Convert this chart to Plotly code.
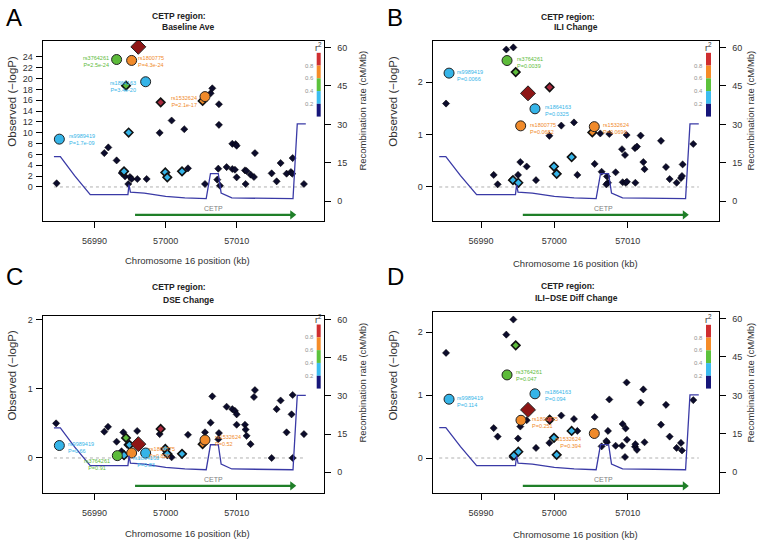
import plotly.graph_objects as go

# ---------------- data ----------------
REC_POS = [56984.3, 56985.2, 56987.2, 56989.4, 56994.7, 56994.85, 56995.05, 56997.0, 57000.0,
           57002.7, 57005.7, 57006.3, 57007.4, 57007.8, 57009.3, 57017.9, 57018.5, 57019.7]
REC_RATE = [17.4, 17.4, 10.0, 2.6, 2.6, 6.5, 3.6, 3.2, 1.9, 1.3, 1.0, 10.8, 10.8, 3.2, 1.3, 1.0, 30.2, 30.2]

GENE_NAME = "CETP"
GENE_START = 56995.7
GENE_END = 57017.8

SNP_NAMES = ["rs9989419", "rs3764261", "rs1800775", "rs1864163", "rs1532624"]
SNP_LD = ["lb", "g", "o", "lb", "o"]

PANEL_TITLES = {"A": "Baseline Ave", "B": "ILI Change", "C": "DSE Change", "D": "ILI\u2212DSE Diff Change"}

# labelled SNPs: positions, -logP, P text
A_lab_pos = [56985.06, 56993.11, 56995.22, 56997.19, 57005.53]
A_lab_logp = [8.82, 23.5, 23.33, 19.4, 16.66]
A_lab_p = ["1.7e-09", "2.5e-24", "4.3e-24", "3.4e-20", "2.1e-17"]
B_lab_pos = [56985.64, 56993.55, 56995.41, 56997.36, 57005.45]
B_lab_logp = [2.17, 2.41, 1.165, 1.49, 1.15]
B_lab_p = ["0.0066", "0.0039", "0.0682", "0.0325", "0.0696"]
C_lab_pos = [56985.06, 56993.21, 56995.22, 56997.19, 57005.53]
C_lab_logp = [0.18, 0.034, 0.072, 0.072, 0.26]
C_lab_p = ["0.66", "0.91", "0.826", "0.83", "0.52"]
D_lab_pos = [56985.64, 56993.55, 56995.45, 56997.36, 57005.45]
D_lab_logp = [0.934, 1.32, 0.60, 1.02, 0.39]
D_lab_p = ["0.114", "0.047", "0.251", "0.094", "0.394"]

# lead SNP
A_lead = (56996.16, 25.84)
B_lead = (56996.41, 1.785)
C_lead = (56996.16, 0.20)
D_lead = (56996.41, 0.765)

# small coloured diamonds
A_col_pos = [56994.43, 56999.3, 57005.2, 56994.8, 56994.15, 56999.95, 57000.23, 57002.3]
A_col_logp = [18.68, 15.6, 15.86, 10.04, 2.88, 2.69, 1.78, 2.88]
A_col_ld = ["g", "r", "o", "lb", "lb", "lb", "lb", "lb"]
B_col_pos = [56994.73, 56999.36, 57005.18, 56994.36, 56995.09, 56999.95, 57000.32, 57002.36]
B_col_logp = [2.19, 1.90, 1.04, 0.13, 0.08, 0.39, 0.25, 0.57]
B_col_ld = ["g", "r", "o", "lb", "lb", "lb", "lb", "lb"]
C_col_pos = [56994.43, 56999.3, 57005.2, 56994.15, 56994.9, 56999.95, 57000.23, 57002.3]
C_col_logp = [0.29, 0.42, 0.20, 0.04, 0.19, 0.13, 0.06, 0.06]
C_col_ld = ["g", "r", "o", "lb", "lb", "lb", "lb", "lb"]
D_col_pos = [56994.73, 56999.36, 56994.5, 56995.09, 56999.95, 57000.32, 57002.36]
D_col_logp = [1.79, 0.61, 0.04, 0.10, 0.32, 0.05, 0.43]
D_col_ld = ["g", "r", "lb", "lb", "lb", "lb", "lb"]

# SNPs without LD info (black)
A_blk_pos = [56984.68, 56991.38, 56991.94, 56993.11, 56993.82, 56994.29, 56994.99, 56995.22, 56994.75,
             56996.02, 56997.33, 56999.16, 57000.84, 57002.62, 57003.14, 57005.53, 57006.32, 57006.56,
             57007.49, 57007.49, 57007.26, 57007.4, 57007.63, 57008.57, 57009.37, 57009.74, 57009.98,
             57009.37, 57009.84, 57009.98, 57011.15, 57011.38, 57011.24, 57011.94, 57012.41, 57012.55,
             57014.9, 57015.6, 57016.16, 57017.0, 57017.61, 57017.8, 57017.85, 57019.44]
A_blk_logp = [0.67, 6.25, 7.29, 4.9, 2.57, 1.96, 1.84, 1.47, 0.55,
              1.47, 1.47, 9.98, 12.25, 10.65, 3.43, 0.55, 17.27, 18.19,
              15.25, 11.45, 1.35, 3.37, 0.24, 3.67, 3.31, 3.18, 1.78,
              7.96, 7.9, 7.6, 3.06, 2.94, 0.55, 2.27, 1.84, 6.25,
              2.51, 1.04, 4.41, 2.45, 2.76, 2.45, 5.33, 0.55]
B_blk_pos = [56985.23, 56991.73, 56992.27, 56993.45, 56994.41, 56994.27, 56995.05, 56995.36, 56996.23,
             56997.5, 56999.32, 57000.95, 57002.68, 57003.14, 57005.5, 57006.27, 57006.45, 57007.5,
             57007.18, 57007.32, 57007.09, 57008.36, 57009.23, 57009.64, 57009.86, 57009.32, 57009.73,
             57009.9, 57011.0, 57011.27, 57011.05, 57011.77, 57012.14, 57012.3, 57014.55, 57015.23,
             57015.73, 57016.68, 57017.27, 57017.41, 57017.5, 57018.95]
B_blk_logp = [1.59, 0.23, 0.05, 2.62, 2.66, 0.14, 0.23, 0.475, 0.39,
              0.13, 0.975, 1.17, 1.23, 0.23, 0.44, 1.02, 0.29, 1.01,
              0.2, 0.08, 0.05, 0.28, 0.72, 0.61, 0.99, 0.09, 0.08,
              0.1, 0.74, 0.77, 0.08, 0.98, 0.475, 0.34, 0.88, 0.38,
              0.15, 0.08, 0.17, 0.21, 0.43, 0.82]
C_blk_pos = [56984.6, 56991.38, 56991.9, 56993.11, 56993.8, 56994.05, 56994.6, 56995.08, 56996.0,
             56999.16, 57000.84, 57003.14, 57005.53, 57006.32, 57006.56, 57007.49, 57007.4, 57008.57,
             57009.37, 57009.74, 57009.98, 57009.98, 57011.15, 57011.24, 57011.38, 57011.94, 57012.41,
             57012.55, 57014.9, 57015.6, 57016.16, 57017.0, 57017.7, 57017.85, 57017.85, 57019.44]
C_blk_logp = [0.50, 0.38, 0.45, 0.235, 0.096, 0.37, 0.19, 0.19, 0.39,
              0.345, 0.01, 0.335, 0.37, 0.51, 0.89, 0.36, 0.27, 0.74,
              0.705, 0.68, 0.63, 0.48, 0.48, 0.41, 0.32, 0.20, 0.88,
              0.98, 0.0, 0.705, 0.83, 0.37, 0.63, 0.91, 0.0, 0.345]
D_blk_pos = [56985.23, 56991.73, 56992.27, 56993.45, 56994.41, 56994.27, 56995.05, 56995.36, 56996.23,
             56997.5, 56999.32, 57000.95, 57002.68, 57003.14, 57005.5, 57006.45, 57007.18, 57007.32,
             57007.5, 57007.09, 57008.36, 57009.23, 57009.32, 57009.73, 57009.9, 57009.86, 57009.64,
             57011.0, 57011.05, 57011.27, 57011.77, 57012.14, 57012.3, 57014.55, 57015.23, 57015.73,
             57016.68, 57017.27, 57017.41, 57018.95]
D_blk_logp = [1.67, 0.475, 0.34, 1.96, 2.2, 0.016, 0.31, 0.50, 0.60,
              0.16, 0.24, 0.675, 0.62, 0.43, 0.65, 0.185, 0.25, 0.43,
              0.93, 0.27, 0.195, 0.195, 0.54, 0.47, 0.29, 1.2, 0.016,
              0.18, 0.22, 0.13, 0.88, 1.09, 0.25, 0.53, 0.845, 0.34,
              0.16, 0.24, 0.12, 0.92]

LEFT_TICKS = {"A": list(range(0, 25, 2)), "B": [0, 1, 2], "C": [0, 1, 2], "D": [0, 1, 2]}
RIGHT_TICKS = [0, 15, 30, 45, 60]
X_TICKS = [56990, 57000, 57010]
R2_TICK_LABELS = ["0.8", "0.6", "0.4", "0.2"]

# ---------------- styling / layout ----------------
W, H = 762, 544
COL = {"lb": "#35b4e8", "g": "#5dbb3a", "o": "#f08a2a", "r": "#a8283c"}
LEAD_COL = "#8e1515"
BLK = "#0c0c2c"
BAR_COLS = ["#cf2e30", "#f58c28", "#5cc23c", "#3cbcf0", "#16167a"]
FONT = "Liberation Sans, Arial, sans-serif"
GENE_Y = -5.3
GENE_COL = "#1f7f28"

PANELS = {
    "A": dict(dx=(42.7, 324.3), dy=(39, 220), xr=(56982.72, 57022.3), yl=(-6.31, 26.94), yr=(-7.78, 62.59),
              data=(A_lab_pos, A_lab_logp, A_lab_p, A_lead, A_col_pos, A_col_logp, A_col_ld, A_blk_pos, A_blk_logp),
              lab_off=[(7.3, 0, "left"), (-6, -1.7, "right"), (4.3, -1.3, "left"), (-7.3, -5, "right"), (-5.7, -5, "right")],
              t1=(178.7, 14), t2=(188, 25), letter=(14, 16), bar=(316.7, 320.7, 51, 115),
              ylab=(12, 100), rlab=(363, 109), xlab=(187, 259)),
    "B": dict(dx=(432.7, 719.3), dy=(39, 220), xr=(56983.41, 57022.5), yl=(-0.652, 2.785), yr=(-7.78, 62.59),
              data=(B_lab_pos, B_lab_logp, B_lab_p, B_lead, B_col_pos, B_col_logp, B_col_ld, B_blk_pos, B_blk_logp),
              lab_off=[(6, -2, "left"), (8, -2.3, "left"), (7, -2.3, "left"), (7.7, -2, "left"), (6.7, -1.7, "left")],
              t1=(567.7, 15), t2=(576, 25), letter=(395, 16), bar=(706, 711, 51, 115),
              ylab=(393, 100), rlab=(751, 109), xlab=(575, 262)),
    "C": dict(dx=(42.7, 324.3), dy=(315.3, 492.7), xr=(56982.72, 57022.3), yl=(-0.504, 2.048), yr=(-8.09, 61.3),
              data=(C_lab_pos, C_lab_logp, C_lab_p, C_lead, C_col_pos, C_col_logp, C_col_ld, C_blk_pos, C_blk_logp),
              lab_off=[(6.7, -1.7, "left"), (-20, -9, "center"), (15, 0.7, "left"), (0, -8.7, "center"), (8.3, -1, "left")],
              t1=(179, 286), t2=(188, 298.7), letter=(14, 276), bar=(316.7, 320.7, 323.7, 388),
              ylab=(12, 375), rlab=(363, 382), xlab=(187, 533)),
    "D": dict(dx=(432.7, 719.3), dy=(311.3, 492.7), xr=(56983.41, 57022.5), yl=(-0.554, 2.317), yr=(-8.03, 62.46),
              data=(D_lab_pos, D_lab_logp, D_lab_p, D_lead, D_col_pos, D_col_logp, D_col_ld, D_blk_pos, D_blk_logp),
              lab_off=[(6, -2, "left"), (7.3, -1, "left"), (8.7, -2.3, "left"), (7.7, -1.7, "left"), (-11.7, -9, "right")],
              t1=(567.7, 285.3), t2=(576.5, 297), letter=(395, 276), bar=(706, 711, 324, 388),
              ylab=(393, 375), rlab=(751, 382), xlab=(575, 534)),
}


def px(x):
    return x / W


def py(y):
    return 1 - y / H


fig = go.Figure()
layout = dict(width=W, height=H, margin=dict(l=0, r=0, t=0, b=0), paper_bgcolor="white",
              plot_bgcolor="white", showlegend=False, font=dict(family=FONT, color="#222"))
annotations = []
shapes = []

for i, (key, P) in enumerate(PANELS.items()):
    xi = i + 1
    yl_i = 2 * i + 1
    yr_i = 2 * i + 2
    xname = "x" if xi == 1 else f"x{xi}"
    ylname = "y" if yl_i == 1 else f"y{yl_i}"
    yrname = f"y{yr_i}"
    axcommon = dict(showgrid=False, zeroline=False, showline=True, linecolor="black", linewidth=1.2,
                    ticks="outside", ticklen=6, tickwidth=1, tickcolor="black",
                    tickfont=dict(size=9, color="#333", family=FONT))
    layout["xaxis" + ("" if xi == 1 else str(xi))] = dict(
        domain=[px(P["dx"][0]), px(P["dx"][1])], range=list(P["xr"]), anchor=ylname,
        tickvals=X_TICKS, ticktext=[str(v) for v in X_TICKS], mirror=True,
        ticklabelstandoff=5, **axcommon)
    layout["yaxis" + ("" if yl_i == 1 else str(yl_i))] = dict(
        domain=[py(P["dy"][1]), py(P["dy"][0])], range=list(P["yl"]), anchor=xname,
        tickvals=LEFT_TICKS[key], mirror=True, ticklabelstandoff=1, **axcommon)
    layout["yaxis" + str(yr_i)] = dict(
        range=list(P["yr"]), anchor=xname, overlaying=ylname, side="right",
        tickvals=RIGHT_TICKS, ticklabelstandoff=4, **axcommon)

    lab_pos, lab_logp, lab_p, lead, col_pos, col_logp, col_ld, blk_pos, blk_logp = P["data"]

    # recombination line
    fig.add_trace(go.Scatter(x=REC_POS, y=REC_RATE, mode="lines", xaxis=xname, yaxis=yrname,
                             line=dict(color="#3a3aa6", width=1.3), hoverinfo="skip"))
    # gene arrow (shaft + head)
    fig.add_trace(go.Scatter(x=[GENE_START, GENE_END], y=[GENE_Y, GENE_Y], mode="lines",
                             xaxis=xname, yaxis=yrname, line=dict(color=GENE_COL, width=2.2),
                             hoverinfo="skip"))
    fig.add_trace(go.Scatter(x=[GENE_END], y=[GENE_Y], mode="markers", xaxis=xname, yaxis=yrname,
                             marker=dict(symbol="triangle-right", size=8, color=GENE_COL, line=dict(width=0)),
                             hoverinfo="skip"))
    # zero dotted line
    fig.add_trace(go.Scatter(x=[REC_POS[0], REC_POS[-1]], y=[0, 0], mode="lines", xaxis=xname, yaxis=ylname,
                             line=dict(color="#b0b0b0", width=1, dash="dot"), hoverinfo="skip"))
    # black SNPs
    fig.add_trace(go.Scatter(x=blk_pos, y=blk_logp, mode="markers", xaxis=xname, yaxis=ylname,
                             marker=dict(symbol="diamond", size=5.5, color=BLK, line=dict(color="black", width=0.5))))
    # coloured diamonds
    fig.add_trace(go.Scatter(x=col_pos, y=col_logp, mode="markers", xaxis=xname, yaxis=ylname,
                             marker=dict(symbol="diamond", size=6.5, color=[COL[c] for c in col_ld],
                                         line=dict(color="#111", width=1.6))))
    # labelled circles
    fig.add_trace(go.Scatter(x=lab_pos, y=lab_logp, mode="markers", xaxis=xname, yaxis=ylname,
                             marker=dict(symbol="circle", size=10, color=[COL[c] for c in SNP_LD],
                                         line=dict(color="#222", width=1))))
    # lead SNP
    fig.add_trace(go.Scatter(x=[lead[0]], y=[lead[1]], mode="markers", xaxis=xname, yaxis=ylname,
                             marker=dict(symbol="diamond", size=11.5, color=LEAD_COL,
                                         line=dict(color="#222", width=1))))

    # SNP labels
    for j, name in enumerate(SNP_NAMES):
        dxo, dyo, anc = P["lab_off"][j]
        annotations.append(dict(x=lab_pos[j], y=lab_logp[j], xref=xname, yref=ylname,
                                text=f"{name}<br>P={lab_p[j]}", showarrow=False, xanchor=anc,
                                yanchor="middle", xshift=dxo, yshift=dyo,
                                align="left" if anc == "left" else ("right" if anc == "right" else "center"),
                                font=dict(size=5.5, color=COL[SNP_LD[j]], family=FONT)))

    annotations.append(dict(x=(GENE_START + GENE_END) / 2, y=GENE_Y, xref=xname, yref=yrname,
                            text=GENE_NAME, showarrow=False, yanchor="bottom", yshift=1,
                            font=dict(size=7, color="#808080", family=FONT)))

    # titles
    annotations.append(dict(x=px(P["t1"][0]), y=py(P["t1"][1]), xref="paper", yref="paper",
                            text="<b>CETP region:</b>", showarrow=False, xanchor="center", yanchor="middle",
                            font=dict(size=8.5, color="#222", family=FONT)))
    annotations.append(dict(x=px(P["t2"][0]), y=py(P["t2"][1]), xref="paper", yref="paper",
                            text=f"<b>{PANEL_TITLES[key]}</b>", showarrow=False, xanchor="center",
                            yanchor="middle", font=dict(size=8.5, color="#222", family=FONT)))
    # panel letter
    annotations.append(dict(x=px(P["letter"][0]), y=py(P["letter"][1]), xref="paper", yref="paper",
                            text=key, showarrow=False, xanchor="center", yanchor="middle",
                            font=dict(size=24, color="black", family=FONT)))
    # axis titles
    annotations.append(dict(x=px(P["ylab"][0]), y=py(P["ylab"][1]), xref="paper", yref="paper",
                            text="Observed (\u2212logP)", textangle=-90, showarrow=False,
                            xanchor="center", yanchor="middle", font=dict(size=11.5, color="#333", family=FONT)))
    annotations.append(dict(x=px(P["rlab"][0]), y=py(P["rlab"][1]), xref="paper", yref="paper",
                            text="Recombination rate (cM/Mb)", textangle=-90, showarrow=False,
                            xanchor="center", yanchor="middle", font=dict(size=9.5, color="#333", family=FONT)))
    annotations.append(dict(x=px(P["xlab"][0]), y=py(P["xlab"][1]), xref="paper", yref="paper",
                            text="Chromosome 16 position (kb)", showarrow=False,
                            xanchor="center", yanchor="middle", font=dict(size=9.5, color="#333", family=FONT)))

    # r2 colour bar
    bx0, bx1, by0, by1 = P["bar"]
    seg = (by1 - by0) / len(BAR_COLS)
    for k, c in enumerate(BAR_COLS):
        shapes.append(dict(type="rect", xref="paper", yref="paper", x0=px(bx0), x1=px(bx1),
                           y0=py(by0 + (k + 1) * seg), y1=py(by0 + k * seg), fillcolor=c, line=dict(width=0)))
    for k, t in enumerate(R2_TICK_LABELS):
        annotations.append(dict(x=px(bx0 - 1), y=py(by0 + (k + 1) * seg), xref="paper", yref="paper",
                                text=t, showarrow=False, xanchor="right", yanchor="middle",
                                font=dict(size=6, color="#909090", family=FONT)))
    annotations.append(dict(x=px((bx0 + bx1) / 2), y=py(by0 - 6), xref="paper", yref="paper",
                            text="r<sup>2</sup>", showarrow=False, xanchor="center", yanchor="middle",
                            font=dict(size=9, color="#333", family=FONT)))

layout["annotations"] = annotations
layout["shapes"] = shapes
fig.update_layout(**layout)
fig.write_html("out.html", config={"displayModeBar": False},
               post_script="document.body.style.margin='0px';document.body.style.overflow='hidden';")
